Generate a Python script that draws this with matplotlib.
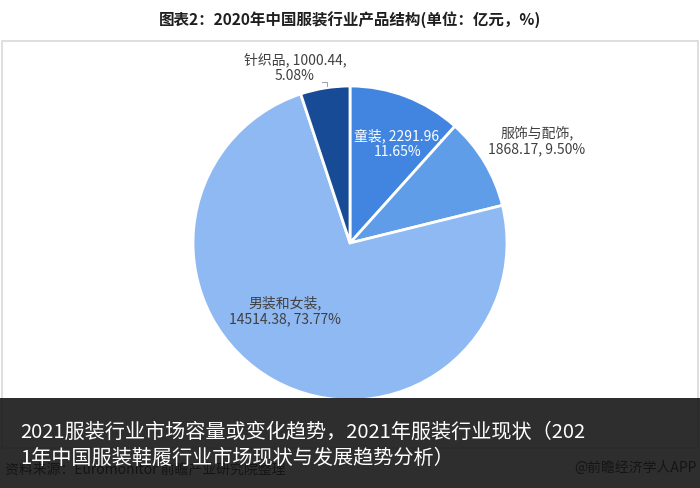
import matplotlib
matplotlib.use("Agg")
import matplotlib.pyplot as plt
from matplotlib.patches import Rectangle

plt.rcParams['font.family'] = ['Noto Sans CJK SC', 'DejaVu Sans']

# 数据 (亿元, %)
categories = ['童装', '服饰与配饰', '男装和女装', '针织品']
values = [2291.96, 1868.17, 14514.38, 1000.44]
shares = [11.65, 9.50, 73.77, 5.08]
colors = ['#4185e0', '#5f9de8', '#8fb9f2', '#174b96']

title = '图表2：2020年中国服装行业产品结构(单位：亿元，%)'
source = '资料来源：Euromonitor 前瞻产业研究院整理'
caption = '2021服装行业市场容量或变化趋势，2021年服装行业现状（202\n1年中国服装鞋履行业市场现状与发展趋势分析）'
brand = '@前瞻经济学人APP'

W, H = 700, 489
fig = plt.figure(figsize=(7, 4.89), dpi=100)
ax = fig.add_axes([0, 0, 1, 1])

# 外框
ax.add_patch(Rectangle((2, H - 449), 696, 407, fill=False, edgecolor='#d9d9d9', linewidth=1.2, zorder=0))

wedges, _ = ax.pie(values, colors=colors, startangle=90, counterclock=False,
                   center=(350, H - 244), radius=157,
                   wedgeprops=dict(edgecolor='white', linewidth=2))

# 数据标签
label_pos = [(398, 144), (537, 141), (285, 311), (295, 68)]
label_color = ['white', '#404040', '#404040', '#404040']
label_text = [
    f'{categories[0]}, {values[0]:.2f},\n{shares[0]:.2f}%',
    f'{categories[1]},\n{values[1]:.2f}, {shares[1]:.2f}%',
    f'{categories[2]},\n{values[2]:.2f}, {shares[2]:.2f}%',
    f'{categories[3]}, {values[3]:.2f},\n{shares[3]:.2f}%',
]
for (x, y), c, t in zip(label_pos, label_color, label_text):
    ax.text(x, H - y, t, color=c, fontsize=10, ha='center', va='center', linespacing=1.2)

# 针织品引导线
ax.plot([322, 327, 327], [H - 83, H - 83, H - 87], color='#a6a6a6', linewidth=0.8)

ax.text(350, H - 20, title, fontsize=11.2, fontweight='bold', color='#1f1f1f', ha='center', va='center')

# 底部文字（被遮罩覆盖）
ax.text(5, H - 469, source, fontsize=10, color='#000000', ha='left', va='center', zorder=1)
ax.text(697, H - 468, brand, fontsize=10, color='#000000', ha='right', va='center', zorder=1)

# 半透明遮罩
ax.add_patch(Rectangle((0, 0), W, H - 399, facecolor='#171717', alpha=0.9, edgecolor='none', zorder=5))
ax.text(20, H - 445, caption, fontsize=14.5, color='white', ha='left', va='center',
        linespacing=1.3, zorder=6)

ax.set_xlim(0, W)
ax.set_ylim(0, H)
ax.set_aspect('auto')
ax.axis('off')

fig.savefig('out.png', dpi=100, facecolor='white')
